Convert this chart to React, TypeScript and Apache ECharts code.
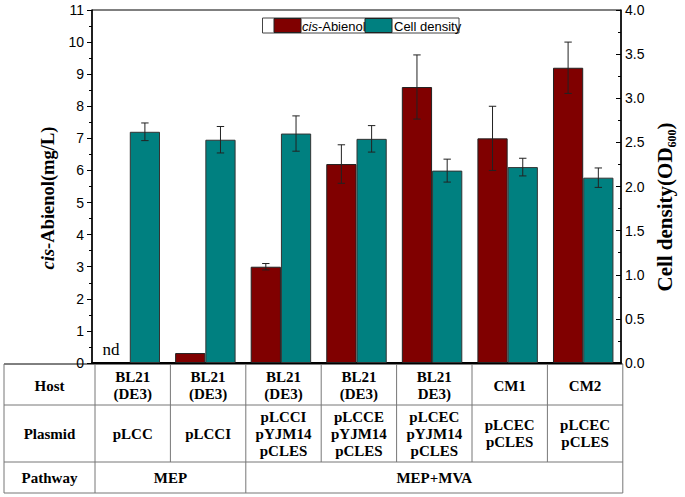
import React, { useEffect, useRef } from "react";
import * as echarts from "echarts";

// ---- data ----
const categories = ["S1", "S2", "S3", "S4", "S5", "S6", "S7"];
const hosts = ["BL21\n(DE3)", "BL21\n(DE3)", "BL21\n(DE3)", "BL21\n(DE3)", "BL21\nDE3)", "CM1", "CM2"];
const plasmids = ["pLCC", "pLCCI", "pLCCI\npYJM14\npCLES", "pLCCE\npYJM14\npCLES", "pLCEC\npYJM14\npCLES", "pLCEC\npCLES", "pLCEC\npCLES"];
const pathways = [
  { label: "MEP", from: 0, to: 2 },
  { label: "MEP+MVA", from: 2, to: 7 },
];
const abienol: (number | null)[] = [null, 0.31, 3.0, 6.2, 8.6, 7.0, 9.2];
const abienolErr = [0, 0, 0.1, 0.6, 1.0, 1.0, 0.8];
const density = [2.62, 2.53, 2.6, 2.54, 2.18, 2.22, 2.1];
const densityErr = [0.1, 0.15, 0.2, 0.15, 0.13, 0.1, 0.11];
const leftTicks = { min: 0, max: 11, interval: 1 };
const rightTicks = { min: 0, max: 4, interval: 0.5 };

const SERIF = "'Liberation Serif', 'Times New Roman', serif";
const SANS = "'Liberation Sans', Arial, sans-serif";
const RED = "#800000";
const TEAL = "#008080";

const GRID = { left: 92, right: 64, top: 10, bottom: 134 };

function errData(vals: (number | null)[], errs: number[]) {
  const out: number[][] = [];
  vals.forEach((v, i) => {
    if (v !== null && errs[i] > 0) out.push([i, v - errs[i], v + errs[i]]);
  });
  return out;
}

function makeErrRender(side: number) {
  return (params: any, api: any) => {
    const cat = api.value(0);
    const lo = api.value(1);
    const hi = api.value(2);
    const bw = api.size([1, 0])[0];
    const cx = api.coord([cat, 0])[0] + side * bw * 0.2;
    const yLo = api.coord([cat, lo])[1];
    const yHi = api.coord([cat, hi])[1];
    const cap = 3.7;
    const st = { stroke: "#222", lineWidth: 1 };
    return {
      type: "group",
      children: [
        { type: "line", shape: { x1: cx, y1: yLo, x2: cx, y2: yHi }, style: st },
        { type: "line", shape: { x1: cx - cap, y1: yHi, x2: cx + cap, y2: yHi }, style: st },
        { type: "line", shape: { x1: cx - cap, y1: yLo, x2: cx + cap, y2: yLo }, style: st },
      ],
    };
  };
}

function tableGraphics() {
  const els: any[] = [];
  const x0 = 4;
  const colStart = 95;
  const colW = 75.4;
  const n = categories.length;
  const xEnd = colStart + colW * n;
  const rows = [364, 405, 462, 493];
  const lineSt = { stroke: "#777", lineWidth: 1 };
  rows.forEach((y, i) => {
    els.push({ type: "line", shape: { x1: x0, y1: y, x2: xEnd, y2: y }, style: i === 0 ? { stroke: "#000", lineWidth: 1 } : lineSt, z: 10 });
  });
  els.push({ type: "line", shape: { x1: x0, y1: rows[0], x2: x0, y2: rows[3] }, style: lineSt, z: 10 });
  els.push({ type: "line", shape: { x1: xEnd, y1: rows[0], x2: xEnd, y2: rows[3] }, style: lineSt, z: 10 });
  els.push({ type: "line", shape: { x1: colStart, y1: rows[0], x2: colStart, y2: rows[3] }, style: lineSt, z: 10 });
  for (let k = 1; k < n; k++) {
    const x = colStart + colW * k;
    els.push({ type: "line", shape: { x1: x, y1: rows[0], x2: x, y2: rows[2] }, style: lineSt, z: 10 });
  }
  pathways.forEach((p) => {
    if (p.from > 0) {
      const x = colStart + colW * p.from;
      els.push({ type: "line", shape: { x1: x, y1: rows[2], x2: x, y2: rows[3] }, style: lineSt, z: 10 });
    }
  });
  const txt = (text: string, x: number, y: number) => ({
    type: "text",
    x,
    y,
    z: 10,
    style: {
      text,
      fontFamily: SERIF,
      fontWeight: "bold",
      fontSize: 15,
      lineHeight: 17,
      fill: "#000",
      align: "center",
      verticalAlign: "middle",
    },
  });
  const hx = (x0 + colStart) / 2;
  els.push(txt("Host", hx, (rows[0] + rows[1]) / 2 + 1));
  els.push(txt("Plasmid", hx, (rows[1] + rows[2]) / 2));
  els.push(txt("Pathway", hx, (rows[2] + rows[3]) / 2));
  for (let k = 0; k < n; k++) {
    const cx = colStart + colW * (k + 0.5);
    els.push(txt(hosts[k], cx, (rows[0] + rows[1]) / 2 + 1));
    els.push(txt(plasmids[k], cx, (rows[1] + rows[2]) / 2));
  }
  pathways.forEach((p) => {
    const cx = colStart + colW * ((p.from + p.to) / 2);
    els.push(txt(p.label, cx, (rows[2] + rows[3]) / 2));
  });
  return els;
}

function legendGraphics() {
  const y0 = 18, h = 15;
  return [
    { type: "rect", shape: { x: 262.5, y: y0, width: 196.5, height: h }, style: { fill: "#fff", stroke: "#444", lineWidth: 1 }, z: 20 },
    { type: "rect", shape: { x: 274, y: y0 + 0.5, width: 27, height: h - 1 }, style: { fill: RED, stroke: "#222", lineWidth: 1 }, z: 21 },
    {
      type: "text", x: 302, y: y0 + h / 2 + 0.5, z: 21,
      style: {
        text: "{i|cis}{n|-Abienol}",
        verticalAlign: "middle",
        rich: {
          i: { fontFamily: SANS, fontStyle: "italic", fontSize: 13, fill: "#000" },
          n: { fontFamily: SANS, fontSize: 13, fill: "#000" },
        },
      },
    },
    { type: "rect", shape: { x: 365, y: y0 + 0.5, width: 27, height: h - 1 }, style: { fill: TEAL, stroke: "#222", lineWidth: 1 }, z: 21 },
    {
      type: "text", x: 394, y: y0 + h / 2 + 0.5, z: 21,
      style: { text: "Cell density", fontFamily: SANS, fontSize: 13, fill: "#000", verticalAlign: "middle" },
    },
  ];
}

function axisNameGraphics() {
  return [
    {
      type: "text", x: 48, y: 198, rotation: Math.PI / 2, z: 20,
      style: {
        text: "{i|cis}{n|-Abienol(mg/L)}",
        align: "center",
        verticalAlign: "middle",
        rich: {
          i: { fontFamily: SERIF, fontWeight: "bold", fontStyle: "italic", fontSize: 18.5, fill: "#000" },
          n: { fontFamily: SERIF, fontWeight: "bold", fontSize: 18.5, fill: "#000" },
        },
      },
    },
    {
      type: "text", x: 665, y: 207, rotation: Math.PI / 2, z: 20,
      style: {
        text: "{n|Cell density(OD}{s|600}{n|)}",
        align: "center",
        verticalAlign: "middle",
        rich: {
          n: { fontFamily: SERIF, fontWeight: "bold", fontSize: 21, lineHeight: 25, fill: "#000" },
          s: { fontFamily: SERIF, fontWeight: "bold", fontSize: 12, lineHeight: 25, verticalAlign: "bottom", fill: "#000" },
        },
      },
    },
  ];
}

export default function App() {
  const ref = useRef<HTMLDivElement>(null);
  useEffect(() => {
    if (!ref.current) return;
    const chart = echarts.init(ref.current, null, { renderer: "svg" });
    const option: any = {
      animation: false,
      backgroundColor: "#fff",
      grid: { ...GRID, show: true, borderColor: "#000", borderWidth: 1, backgroundColor: "transparent" },
      xAxis: {
        type: "category",
        data: categories,
        axisLabel: { show: false },
        axisTick: { show: false },
        axisLine: { lineStyle: { color: "#000", width: 2 } },
        splitLine: { show: false },
      },
      yAxis: [
        {
          type: "value",
          ...leftTicks,
          position: "left",
          axisLine: { show: true, lineStyle: { color: "#000", width: 1.5 } },
          axisTick: { show: true, length: 5, lineStyle: { color: "#000" } },
          minorTick: { show: true, splitNumber: 2, length: 3, lineStyle: { color: "#000" } },
          splitLine: { show: false },
          axisLabel: { fontFamily: SANS, fontSize: 14, color: "#000", margin: 8 },
        },
        {
          type: "value",
          ...rightTicks,
          position: "right",
          axisLine: { show: true, lineStyle: { color: "#000", width: 1.5 } },
          axisTick: { show: true, inside: true, length: 5, lineStyle: { color: "#000" } },
          minorTick: { show: true, splitNumber: 2, length: 3, lineStyle: { color: "#000" } },
          splitLine: { show: false },
          axisLabel: { fontFamily: SANS, fontSize: 14, color: "#000", margin: 4, formatter: (v: number) => v.toFixed(1) },
        },
      ],
      series: [
        {
          name: "cis-Abienol",
          type: "bar",
          yAxisIndex: 0,
          data: abienol.map((v) => (v === null ? "-" : v)),
          barWidth: "40%",
          barGap: "0%",
          itemStyle: { color: RED, borderColor: "#222", borderWidth: 1 },
        },
        {
          name: "Cell density",
          type: "bar",
          yAxisIndex: 1,
          data: density,
          barWidth: "40%",
          barGap: "0%",
          itemStyle: { color: TEAL, borderColor: "#333", borderWidth: 1 },
        },
        {
          type: "custom",
          yAxisIndex: 0,
          data: errData(abienol, abienolErr),
          encode: { x: 0, y: [1, 2] },
          renderItem: makeErrRender(-1),
          z: 5,
        },
        {
          type: "custom",
          yAxisIndex: 1,
          data: errData(density, densityErr),
          encode: { x: 0, y: [1, 2] },
          renderItem: makeErrRender(1),
          z: 5,
        },
        {
          type: "custom",
          yAxisIndex: 0,
          data: abienol.map((v, i) => (v === null ? [i, 0] : null)).filter((d) => d !== null),
          encode: { x: 0, y: 1 },
          renderItem: (params: any, api: any) => {
            const cat = api.value(0);
            const bw = api.size([1, 0])[0];
            const p = api.coord([cat, 0]);
            return {
              type: "text",
              x: p[0] - bw * 0.25,
              y: p[1] - 5,
              style: { text: "nd", fontFamily: SERIF, fontSize: 17, fill: "#000", align: "center", verticalAlign: "bottom" },
            };
          },
          z: 5,
        },
      ],
      graphic: [...tableGraphics(), ...legendGraphics(), ...axisNameGraphics()],
    };
    chart.setOption(option);
    return () => chart.dispose();
  }, []);
  return <div ref={ref} style={{ position: "fixed", left: 0, top: 0, width: 685, height: 497 }} />;
}
